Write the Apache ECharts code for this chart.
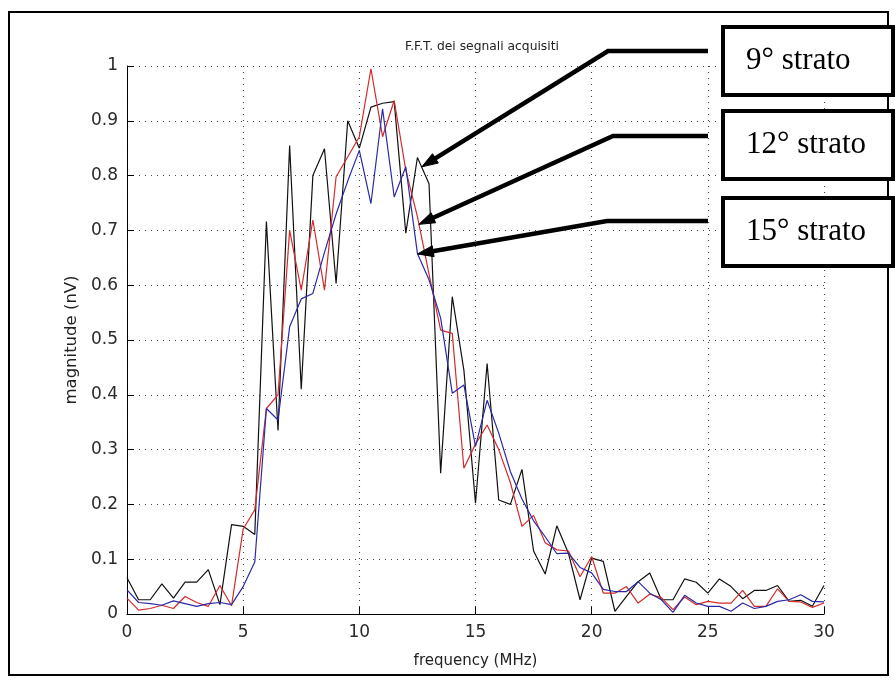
<!DOCTYPE html>
<html>
<head>
<meta charset="utf-8">
<style>
  html, body { margin: 0; padding: 0; background: #fff; }
  #chart { width: 896px; height: 683px; }
</style>
<script src="https://cdn.jsdelivr.net/npm/echarts@6/dist/echarts.min.js"></script>
</head>
<body>
<div id="chart"></div>
<script>
// Frequency bins (MHz)
const freq = [0, 0.5, 1, 1.5, 2, 2.5, 3, 3.5, 4, 4.5, 5, 5.5, 6, 6.5, 7, 7.5, 8, 8.5, 9, 9.5,
  10, 10.5, 11, 11.5, 12, 12.5, 13, 13.5, 14, 14.5, 15, 15.5, 16, 16.5, 17, 17.5, 18, 18.5, 19, 19.5,
  20, 20.5, 21, 21.5, 22, 22.5, 23, 23.5, 24, 24.5, 25, 25.5, 26, 26.5, 27, 27.5, 28, 28.5, 29, 29.5, 30];

// FFT magnitude (nV), 9th layer
const strato9 = [0.066, 0.026, 0.026, 0.055, 0.029, 0.058, 0.058, 0.081, 0.017, 0.163,
  0.160, 0.145, 0.716, 0.335, 0.855, 0.410, 0.800, 0.849, 0.603, 0.900,
  0.850, 0.925, 0.932, 0.935, 0.695, 0.833, 0.785, 0.257, 0.579, 0.445,
  0.202, 0.457, 0.208, 0.200, 0.264, 0.115, 0.073, 0.161, 0.111, 0.026,
  0.102, 0.096, 0.005, 0.032, 0.059, 0.075, 0.026, 0.026, 0.064, 0.058,
  0.038, 0.064, 0.050, 0.028, 0.043, 0.043, 0.052, 0.023, 0.025, 0.014, 0.052];

// FFT magnitude (nV), 12th layer
const strato12 = [0.029, 0.007, 0.010, 0.016, 0.010, 0.032, 0.021, 0.014, 0.052, 0.015,
  0.155, 0.190, 0.375, 0.400, 0.700, 0.591, 0.719, 0.591, 0.798, 0.834,
  0.871, 0.995, 0.871, 0.937, 0.810, 0.725, 0.620, 0.518, 0.512, 0.266,
  0.310, 0.345, 0.300, 0.240, 0.160, 0.180, 0.130, 0.117, 0.115, 0.068,
  0.105, 0.038, 0.038, 0.050, 0.020, 0.036, 0.030, 0.008, 0.031, 0.017,
  0.023, 0.020, 0.020, 0.043, 0.014, 0.014, 0.046, 0.023, 0.022, 0.012, 0.020];

// FFT magnitude (nV), 15th layer
const strato15 = [0.044, 0.021, 0.019, 0.016, 0.024, 0.019, 0.014, 0.019, 0.021, 0.017,
  0.050, 0.095, 0.375, 0.354, 0.524, 0.575, 0.585, 0.660, 0.730, 0.790,
  0.846, 0.749, 0.922, 0.761, 0.816, 0.658, 0.610, 0.540, 0.403, 0.418,
  0.306, 0.390, 0.330, 0.260, 0.210, 0.170, 0.141, 0.110, 0.111, 0.085,
  0.075, 0.045, 0.041, 0.041, 0.059, 0.038, 0.026, 0.003, 0.034, 0.020,
  0.014, 0.014, 0.005, 0.020, 0.010, 0.014, 0.023, 0.026, 0.035, 0.023, 0.022];

// Callout labels and the curve point each arrow points at [MHz, nV]
const calloutLabels = ['9° strato', '12° strato', '15° strato'];
const calloutTargets = [[12.69, 0.816], [12.56, 0.711], [12.5, 0.657]];

const pairs = vals => freq.map((f, i) => [f, vals[i]]);

const chart = echarts.init(document.getElementById('chart'), null, { renderer: 'canvas' });

const sans = '"DejaVu Sans", Verdana, sans-serif';
const axisFont = { fontFamily: sans, fontSize: 17, color: '#2a2a2a' };
const gridDots = { color: '#444', width: 1.1, type: [1, 5] };

chart.setOption({
  backgroundColor: '#fff',
  animation: false,
  title: {
    text: 'F.F.T. dei segnali acquisiti',
    left: 477, top: 36, textAlign: 'center',
    textStyle: { fontFamily: sans, fontSize: 12.3, fontWeight: 'normal', color: '#222' }
  },
  grid: { left: 127, top: 66, width: 697, height: 548, containLabel: false },
  xAxis: {
    type: 'value', min: 0, max: 30, interval: 5,
    name: 'frequency (MHz)', nameLocation: 'middle', nameGap: 40,
    nameMoveOverlap: false,
    nameTextStyle: { fontFamily: sans, fontSize: 15, color: '#222' },
    axisLine: { show: true, onZero: false, lineStyle: { color: '#000', width: 1 } },
    axisTick: { show: true, inside: true, length: 7, lineStyle: { color: '#000' } },
    axisLabel: Object.assign({ margin: 10 }, axisFont),
    splitLine: { show: true, lineStyle: gridDots }
  },
  yAxis: {
    type: 'value', min: 0, max: 1, interval: 0.1,
    name: 'magnitude (nV)', nameLocation: 'middle', nameGap: 47, nameRotate: 90,
    nameMoveOverlap: false,
    nameTextStyle: { fontFamily: sans, fontSize: 16.5, color: '#222' },
    axisLine: { show: true, onZero: false, lineStyle: { color: '#000', width: 1 } },
    axisTick: { show: true, inside: true, length: 7, lineStyle: { color: '#000' } },
    axisLabel: Object.assign({
      margin: 9,
      formatter: v => (Math.round(v * 10) / 10).toString()
    }, axisFont),
    splitLine: { show: true, lineStyle: gridDots }
  },
  series: [
    { name: '9° strato', type: 'line', data: pairs(strato9), showSymbol: false,
      lineStyle: { color: '#111', width: 1.2 }, z: 2 },
    { name: '12° strato', type: 'line', data: pairs(strato12), showSymbol: false,
      lineStyle: { color: '#d42a2a', width: 1.2 }, z: 3 },
    { name: '15° strato', type: 'line', data: pairs(strato15), showSymbol: false,
      lineStyle: { color: '#2a2aa8', width: 1.2 }, z: 4 }
  ]
});

// Callout boxes with arrows pointing at the three curves
const boxTops = [25, 109, 196];
const elbowY = [51, 136, 221];
const elbowX = [608, 613, 607];
const graphics = [
  // outer figure frame
  { type: 'rect', shape: { x: 9, y: 12, width: 879, height: 663 },
    style: { fill: null, stroke: '#000', lineWidth: 2 }, z: 100, silent: true }
];

calloutTargets.forEach((t, i) => {
  const tip = chart.convertToPixel({ gridIndex: 0 }, t);
  const sx = elbowX[i], sy = elbowY[i];
  const dx = tip[0] - sx, dy = tip[1] - sy;
  const len = Math.sqrt(dx * dx + dy * dy);
  const ux = dx / len, uy = dy / len;
  const headLen = 16, headHalf = 5.5;
  const bx = tip[0] - ux * headLen, by = tip[1] - uy * headLen;
  graphics.push({
    type: 'polyline', z: 110, silent: true,
    shape: { points: [[708, sy], [sx, sy], [bx + ux * 2, by + uy * 2]] },
    style: { stroke: '#000', lineWidth: 4.5, fill: null, lineJoin: 'miter' }
  });
  graphics.push({
    type: 'polygon', z: 111, silent: true,
    shape: { points: [
      [tip[0], tip[1]],
      [bx - uy * headHalf, by + ux * headHalf],
      [bx + uy * headHalf, by - ux * headHalf]
    ] },
    style: { fill: '#000', stroke: '#000', lineWidth: 1 }
  });
  graphics.push({
    type: 'rect', z: 120, silent: true,
    shape: { x: 723, y: boxTops[i] + 2, width: 170, height: 68 },
    style: { fill: '#fff', stroke: '#000', lineWidth: 4 }
  });
  graphics.push({
    type: 'text', z: 121, silent: true,
    x: 746, y: boxTops[i] + 36,
    style: {
      text: calloutLabels[i], fill: '#000',
      font: '31px "Liberation Serif", "Times New Roman", serif',
      textAlign: 'left', textVerticalAlign: 'middle'
    }
  });
});

chart.setOption({ graphic: graphics });
</script>
</body>
</html>
